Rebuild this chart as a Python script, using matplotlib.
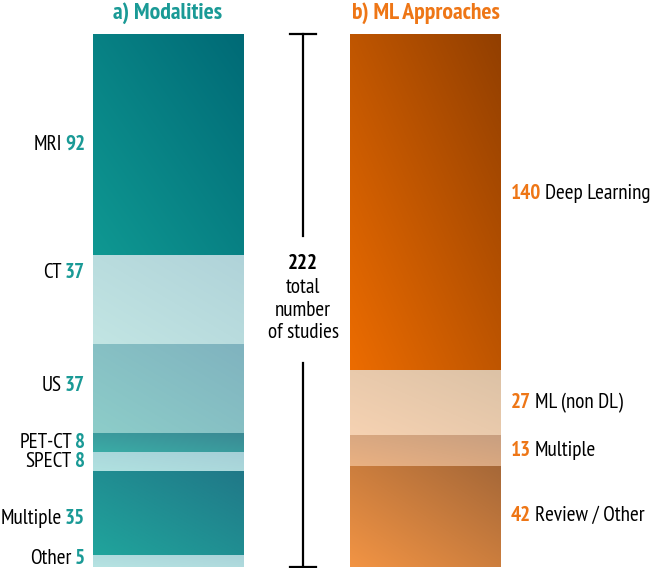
import numpy as np
import matplotlib
matplotlib.use("Agg")
import matplotlib.pyplot as plt
from matplotlib.colors import to_rgb

modality_labels = ["MRI", "CT", "US", "PET-CT", "SPECT", "Multiple", "Other"]
modality_counts = [92, 37, 37, 8, 8, 35, 5]
approach_labels = ["Deep Learning", "ML (non DL)", "Multiple", "Review / Other"]
approach_counts = [140, 27, 13, 42]
total_studies = 222

# (bottom-left colour, top-right colour) for each segment
modality_colors = [
    ("#0f9892", "#006a76"),
    ("#c2e5e3", "#b0d3d9"),
    ("#8dcdc9", "#80b3bf"),
    ("#3aaca6", "#3b8893"),
    ("#b0e1e0", "#a6cfd7"),
    ("#20a49c", "#207888"),
    ("#b6e3e2", "#a9d3d9"),
]
approach_colors = [
    ("#ec6c00", "#923f00"),
    ("#f6d2b2", "#dcc2a6"),
    ("#eab182", "#c89f80"),
    ("#f29444", "#a66838"),
]
# label nudges (in bar units) so labels sit where the original puts them
modality_nudge = [0, -11, -1, 0, 0, 2.5, -1.2]
approach_nudge = [-3.7, 0, 0, -0.5]
TEAL = "#1a9a96"
ORANGE = "#ee7616"

plt.rcParams["font.family"] = ["PT Sans Narrow", "Fira Sans Condensed", "DejaVu Sans"]

fig = plt.figure(figsize=(6.55, 5.68), dpi=100)
ax = fig.add_axes([0, 1 / 568, 1, 533 / 568])
ax.set_xlim(0, 655)
ax.set_ylim(total_studies, 0)
ax.axis("off")


def gradient_fill(patch, c1, c2):
    x0, y0 = patch.get_x(), patch.get_y()
    w, h = patch.get_width(), patch.get_height()
    n = 64
    xx, yy = np.meshgrid(np.linspace(0, 1, n), np.linspace(0, 1, n))
    t = (1 - xx + yy) / 2  # 1 at bottom-left, 0 at top-right
    a, b = np.array(to_rgb(c1)), np.array(to_rgb(c2))
    img = a[None, None, :] * t[..., None] + b[None, None, :] * (1 - t[..., None])
    im = ax.imshow(img, extent=(x0, x0 + w, y0 + h, y0), aspect="auto",
                   interpolation="bilinear", zorder=2)
    im.set_clip_path(patch)


def stacked(xc, counts, colors):
    bottoms = np.concatenate([[0], np.cumsum(counts)[:-1]])
    bars = ax.bar([xc] * len(counts), counts, bottom=bottoms, width=151,
                  color=[c[0] for c in colors], linewidth=0, zorder=1)
    for bar, (c1, c2) in zip(bars, colors):
        gradient_fill(bar, c1, c2)
    return bottoms + np.array(counts) / 2


fs = 15.2
left_mid = stacked(168.5, modality_counts, modality_colors) + np.array(modality_nudge)
right_mid = stacked(425.5, approach_counts, approach_colors) + np.array(approach_nudge)

fig.canvas.draw()
renderer = fig.canvas.get_renderer()
inv = ax.transData.inverted()

for lab, n, y in zip(modality_labels, modality_counts, left_mid):
    t = ax.text(85, y, str(n), ha="right", va="center", fontsize=fs,
                color=TEAL, fontweight="bold")
    bb = t.get_window_extent(renderer)
    x_left = inv.transform((bb.x0, bb.y0))[0]
    ax.text(x_left - 3, y, lab, ha="right", va="center", fontsize=fs, color="black")

for lab, n, y in zip(approach_labels, approach_counts, right_mid):
    t = ax.text(511, y, str(n), ha="left", va="center", fontsize=fs,
                color=ORANGE, fontweight="bold")
    bb = t.get_window_extent(renderer)
    x_right = inv.transform((bb.x1, bb.y0))[0]
    ax.text(x_right + 3.5, y, lab, ha="left", va="center", fontsize=fs, color="black")

# bracket for total
bx = 303
ax.plot([bx, bx], [0, 84], color="black", lw=1.6, clip_on=False)
ax.plot([bx, bx], [137, total_studies], color="black", lw=1.6, clip_on=False)
ax.plot([bx - 13, bx + 13], [0, 0], color="black", lw=1.6, clip_on=False)
ax.plot([bx - 13, bx + 13], [total_studies, total_studies], color="black", lw=1.6, clip_on=False)
ax.text(bx, 95.5, str(total_studies), ha="center", va="center", fontsize=fs,
        fontweight="bold", color="black")
ax.text(bx, 105.5, "total", ha="center", va="center", fontsize=fs)
ax.text(bx, 115, "number", ha="center", va="center", fontsize=fs)
ax.text(bx, 124.5, "of studies", ha="center", va="center", fontsize=fs)

fig.text(168 / 655, 1 - 13 / 568, "a) Modalities", ha="center", va="center",
         fontsize=17, fontweight="bold", color=TEAL)
fig.text(426 / 655, 1 - 13 / 568, "b) ML Approaches", ha="center", va="center",
         fontsize=17, fontweight="bold", color=ORANGE)

fig.savefig("out.png", dpi=100)
